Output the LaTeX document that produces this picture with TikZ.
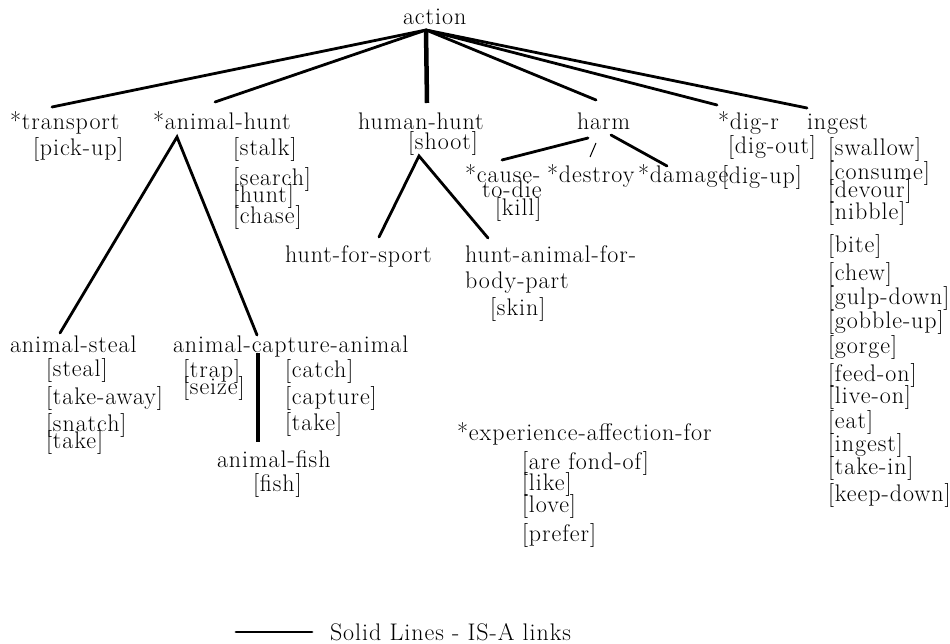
\documentclass[tikz,border=0pt]{standalone}
\usepackage{fontspec}
\setmainfont{Latin Modern Roman}[LetterSpace=4.0]
\begin{document}
\begin{tikzpicture}[x=1pt,y=-1pt,
  every node/.style={inner sep=0pt, outer sep=0pt, anchor=base west, font=\fontsize{24}{28}\selectfont},
  isa/.style={line width=2.8pt, line cap=round},
  isathick/.style={line width=4.5pt},
  thinlink/.style={line width=1pt}]
\useasboundingbox (0,0) rectangle (950,644);
% top level
\node (action) at (403,25) {action};
\node (transport) at (10,130) {*transport};
\node (pickup) at (33,156) {[pick-up]};
\node (ahunt) at (153,130) {*animal-hunt};
\node (stalk) at (233,156) {[stalk]};
\node (search) at (233,186) {[search]};
\node (hunt) at (233,203) {[hunt]};
\node (chase) at (233,224) {[chase]};
\node (hhunt) at (358,130) {human-hunt};
\node (shoot) at (408,150) {[shoot]};
\node (harm) at (577,130) {harm};
\node (digr) at (718,130) {*dig-r};
\node (digout) at (728,154) {[dig-out]};
\node (digup) at (722,184) {[dig-up]};
\node (ingest) at (807,130) {ingest};
% ingest list
\node (i1) at (828,156) {[swallow]};
\node (i2) at (828,180) {[consume]};
\node (i3) at (828,198) {[devour]};
\node (i4) at (828,220) {[nibble]};
\node (i5) at (828,253) {[bite]};
\node (i6) at (828,280) {[chew]};
\node (i7) at (828,305) {[gulp-down]};
\node (i8) at (828,328) {[gobble-up]};
\node (i9) at (828,353) {[gorge]};
\node (i10) at (828,381) {[feed-on]};
\node (i11) at (828,403) {[live-on]};
\node (i12) at (828,428) {[eat]};
\node (i13) at (828,451) {[ingest]};
\node (i14) at (828,474) {[take-in]};
\node (i15) at (828,501) {[keep-down]};
% harm children
\node (cause) at (465,183) {*cause-};
\node (todie) at (482,198) {to-die};
\node (kill) at (495,216) {[kill]};
\node (destroy) at (547,183) {*destroy};
\node (damage) at (638,183) {*damage};
% human-hunt children
\node (hsport) at (285,262) {hunt-for-sport};
\node (habp) at (465,262) {hunt-animal-for-};
\node (bodypart) at (465,288) {body-part};
\node (skin) at (490,316) {[skin]};
% animal-hunt children
\node (asteal) at (10,352) {animal-steal};
\node (s1) at (46,376) {[steal]};
\node (s2) at (46,404) {[take-away]};
\node (s3) at (46,431) {[snatch]};
\node (s4) at (46,448) {[take]};
\node (aca) at (173,352) {animal-capture-animal};
\node (trap) at (183,377) {[trap]};
\node (seize) at (183,394) {[seize]};
\node (catch) at (285,377) {[catch]};
\node (capture) at (285,404) {[capture]};
\node (take) at (285,430) {[take]};
\node (afish) at (217,467) {animal-fish};
\node (fish) at (253,491) {[fish]};
% experience
\node (exp) at (457,440) {*experience-affection-for};
\node (f1) at (522,469) {[are fond-of]};
\node (f2) at (522,490) {[like]};
\node (f3) at (522,512) {[love]};
\node (f4) at (522,541) {[prefer]};
% legend
\coordinate (lg1) at (236,632);
\coordinate (lg2) at (312,632);
\node (legend) at (330,640) {Solid Lines - IS-A links};
\draw[isa] (lg1) -- (lg2);
% connector points
\coordinate (apex) at (426,30);
\coordinate (e-transport) at (52,107);
\coordinate (e-ahunt) at (215,102);
\coordinate (e-hhunt) at (427,103);
\coordinate (e-harm) at (596,100);
\coordinate (e-digr) at (717,105);
\coordinate (e-ingest) at (807,108);
\draw[isa] (apex) -- (e-transport);
\draw[isa] (apex) -- (e-ahunt);
\draw[isathick] (apex) -- (e-hhunt);
\draw[isa] (apex) -- (e-harm);
\draw[isa] (apex) -- (e-digr);
\draw[isa] (apex) -- (e-ingest);
% animal-hunt
\coordinate (ah-apex) at (177,137);
\coordinate (ah-l) at (60,333);
\coordinate (ah-r) at (257,335);
\draw[isa] (ah-l) -- (ah-apex) -- (ah-r);
% human-hunt
\coordinate (hh-apex) at (419,156);
\coordinate (hh-l) at (379,237);
\coordinate (hh-r) at (488,238);
\draw[isa] (hh-l) -- (hh-apex) -- (hh-r);
% harm
\coordinate (hm-l1) at (588,138);
\coordinate (hm-l2) at (502,160);
\coordinate (hm-r1) at (611,135);
\coordinate (hm-r2) at (667,166);
\coordinate (hm-m1) at (596,143);
\coordinate (hm-m2) at (590,157);
\draw[isa] (hm-l1) -- (hm-l2);
\draw[isa] (hm-r1) -- (hm-r2);
\draw[thinlink] (hm-m1) -- (hm-m2);
% animal-fish
\coordinate (af-t) at (258,353);
\coordinate (af-b) at (258,442);
\draw[line width=3.5pt] (af-t) -- (af-b);
\end{tikzpicture}
\end{document}
